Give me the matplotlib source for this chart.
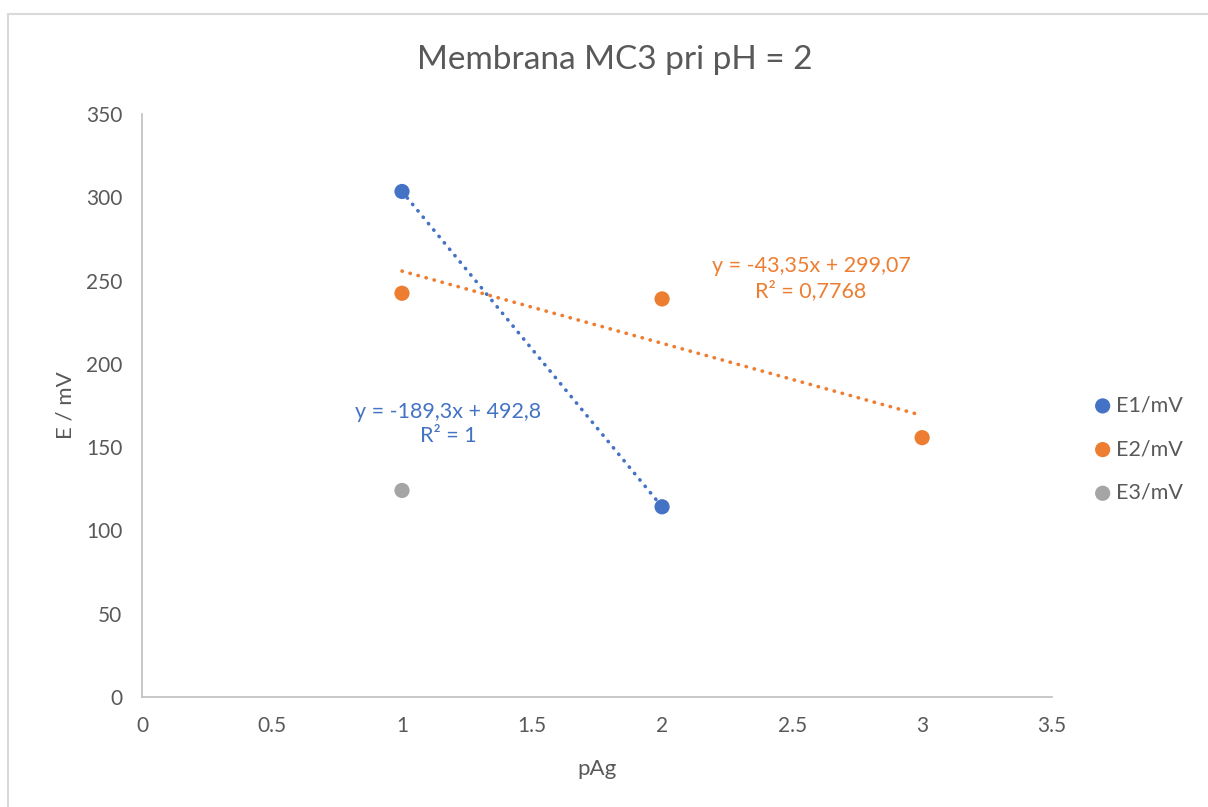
import numpy as np
import matplotlib.pyplot as plt
from matplotlib.patches import Rectangle

plt.rcParams['font.family'] = ['Lato', 'DejaVu Sans']

# data
x1 = [1, 2]
e1 = [303.5, 114.2]
x2 = [1, 2, 3]
e2 = [242.4, 239.0, 155.7]
x3 = [1]
e3 = [124]
labels = ['E1/mV', 'E2/mV', 'E3/mV']
colors = ['#4472C4', '#ED7D31', '#A5A5A5']

fig = plt.figure(figsize=(12.08, 8.07), dpi=100)
ax = fig.add_axes([0.1175, 0.1363, 0.7535, 0.7224])

# outer chart border
fig.patches.append(Rectangle((8 / 1208, -0.1), 1.2, 1 - 14 / 807 + 0.1,
                             transform=fig.transFigure, fill=False,
                             edgecolor='#D9D9D9', linewidth=1.5))

for xs, ys, lab, c in zip([x1, x2, x3], [e1, e2, e3], labels, colors):
    ax.scatter(xs, ys, s=120, color=c, label=lab, zorder=3, edgecolors='none')

# linear trendlines
for xs, ys, c in [(x1, e1, colors[0]), (x2, e2, colors[1])]:
    k, n = np.polyfit(xs, ys, 1)
    xx = np.array([min(xs), max(xs)])
    ax.plot(xx, k * xx + n, color=c, linestyle=(0, (0.1, 2.2)),
            linewidth=2.6, dash_capstyle='round', zorder=2)

ax.text(1.177, 164, 'y = -189,3x + 492,8\nR² = 1', color=colors[0],
        fontsize=15.5, ha='center', va='center', linespacing=1.25)
ax.text(2.573, 251, 'y = -43,35x + 299,07\nR² = 0,7768', color=colors[1],
        fontsize=15.5, ha='center', va='center', linespacing=1.25)

ax.set_xlim(0, 3.5)
ax.set_ylim(0, 350)
ax.set_xticks(np.arange(0, 3.51, 0.5))
ax.set_xticklabels(['0', '0.5', '1', '1.5', '2', '2.5', '3', '3.5'])
ax.set_yticks(np.arange(0, 351, 50))

for s in ['top', 'right']:
    ax.spines[s].set_visible(False)
for s in ['left', 'bottom']:
    ax.spines[s].set_color('#BFBFBF')
    ax.spines[s].set_linewidth(1.2)
ax.tick_params(length=0, labelsize=15, colors='#595959', pad=14)

fig.text(615 / 1208, 1 - 60 / 807, 'Membrana MC3 pri pH = 2', fontsize=24,
         color='#595959', ha='center', va='center')
ax.set_xlabel('pAg', fontsize=16, color='#595959', labelpad=16)
ax.set_ylabel('E / mV', fontsize=16, color='#595959', labelpad=8)

ax.legend(loc='center left', bbox_to_anchor=(1.02, 0.425), frameon=False,
          fontsize=15.5, labelcolor='#595959', handletextpad=0.0,
          handlelength=1.2, labelspacing=1.1, markerscale=1.0)

fig.savefig('out.png', dpi=100)
